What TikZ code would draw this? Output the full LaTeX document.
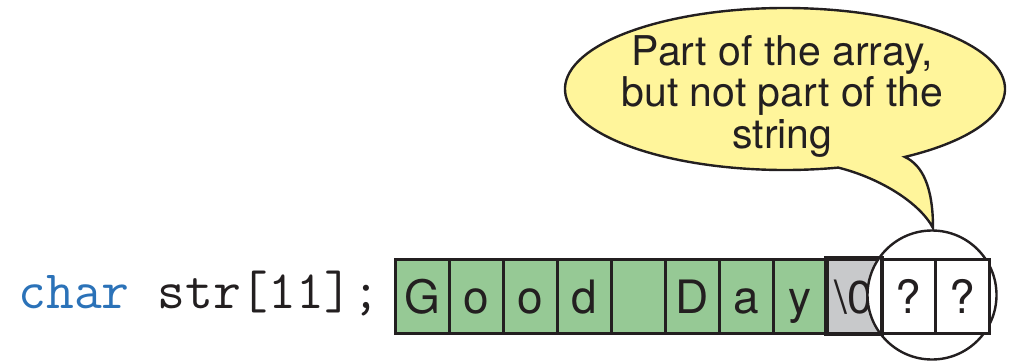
\documentclass[tikz,border=0pt]{standalone}
\usepackage{fontspec}
\setsansfont{TeX Gyre Heros}
\definecolor{cellgreen}{RGB}{150,201,149}
\definecolor{nullgray}{RGB}{200,201,203}
\definecolor{bubble}{RGB}{255,245,155}
\definecolor{keyword}{RGB}{43,114,184}
\definecolor{ink}{RGB}{35,31,32}
\begin{document}
\begin{tikzpicture}[x=0.5pt,y=0.5pt,
        cell/.style={draw=ink,line width=1.5pt,minimum width=27pt,minimum height=37pt,inner sep=0pt,
            text height=17pt,text depth=0pt,text=ink,font=\sffamily\fontsize{23}{23}\selectfont}]
    \useasboundingbox (0,0) rectangle (1013,361);

    % speech bubble
    \filldraw [line width=1.2pt,draw=ink,fill=bubble] (785,272) ++(-57:220 and 81)
        arc [start angle=-57,end angle=284,x radius=220,y radius=81]
        .. controls (880,183) and (920,158) .. (933,133)
        .. controls (933,175) and (922,196) .. cycle;
    \node [align=center,text=ink,font=\sffamily\fontsize{20.5}{20.75}\selectfont] (note) at (782.5,265)
        {Part of the array,\\but not part of the\\string};

    \node [anchor=base west,inner sep=0pt,text=ink,font=\ttfamily\fontsize{27}{27}\selectfont] (decl) at (18,53)
        {\textcolor{keyword}{char} str[11];};

    % the array
    \foreach \ch [count=\i] in {G,o,o,d,{},D,a,y}
        \node [cell,fill=cellgreen] (c\i) at (368+54*\i,65) {\ch};
    \node [cell,fill=nullgray] (c9) at (854,65) {\textbackslash 0};
    \node [circle,draw=ink,line width=1.2pt,fill=white,minimum size=64.5pt,inner sep=0pt] (ring) at (932,66) {};
    \foreach \i in {10,11}
        \node [cell,fill=white] (c\i) at (368+54*\i,65) {?};
    \draw [ink,line width=1.5pt] (c9.south west) rectangle (c9.north east);
\end{tikzpicture}
\end{document}
